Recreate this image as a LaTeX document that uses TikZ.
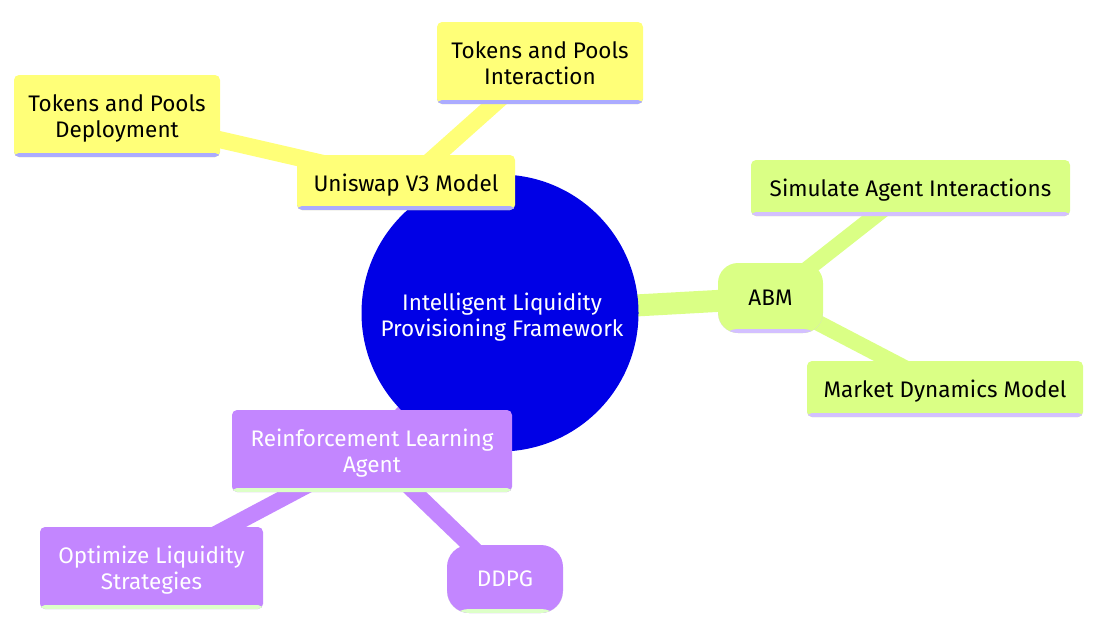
\documentclass[tikz,border=0pt]{standalone}
\usepackage{fontspec}
\setmainfont{Fira Sans}
\usetikzlibrary{backgrounds}
\definecolor{rootc}{HTML}{0000E6}
\definecolor{yel}{HTML}{FFFF78}
\definecolor{yelline}{HTML}{ABABFF}
\definecolor{grn}{HTML}{DAFF85}
\definecolor{grnline}{HTML}{D3C0FF}
\definecolor{pur}{HTML}{C386FF}
\definecolor{purline}{HTML}{DDFFC8}
\tikzset{
  x=1pt,y=-1pt,
  every node/.style={font=\fontsize{22.5}{26}\selectfont, align=center, inner sep=0pt, text depth=0pt},
  boxbase/.style={rectangle, rounded corners=5pt},
  ybox/.style={boxbase, fill=yel, text=black,
    path picture={\fill[yelline] ([yshift=4pt]path picture bounding box.south west) rectangle (path picture bounding box.south east);}},
  gbox/.style={boxbase, fill=grn, text=black,
    path picture={\fill[grnline] ([yshift=4pt]path picture bounding box.south west) rectangle (path picture bounding box.south east);}},
  pbox/.style={boxbase, fill=pur, text=white,
    path picture={\fill[purline] ([yshift=4pt]path picture bounding box.south west) rectangle (path picture bounding box.south east);}},
  yedge/.style={draw=yel, line width=#1},
  gedge/.style={draw=grn, line width=#1},
  pedge/.style={draw=pur, line width=#1},
}
\begin{document}
\begin{tikzpicture}
\useasboundingbox (0,0) rectangle (1102,625);
% root
\node[circle, fill=rootc, minimum size=277pt, text=white] (root) at (500,313) {};
\node[text=white] (roottxt) at (502,315) {Intelligent Liquidity\\Provisioning Framework};
% yellow branch
\node[ybox, minimum width=218pt, minimum height=55pt] (uni) at (406,182.5) {Uniswap V3 Model};
\node[ybox, minimum width=206pt, minimum height=82pt] (dep) at (117,116) {Tokens and Pools\\Deployment};
\node[ybox, minimum width=206pt, minimum height=82pt] (inter) at (540,63) {Tokens and Pools\\Interaction};
% green branch
\node[gbox, rounded corners=20pt, minimum width=105pt, minimum height=70pt] (abm) at (770.5,298) {ABM};
\node[gbox, minimum width=319pt, minimum height=56pt] (sim) at (910.5,188) {Simulate Agent Interactions};
\node[gbox, minimum width=276pt, minimum height=56pt] (mkt) at (945,389) {Market Dynamics Model};
% purple branch
\node[pbox, minimum width=280pt, minimum height=82pt] (rl) at (372,451) {Reinforcement Learning\\Agent};
\node[pbox, minimum width=223pt, minimum height=82pt] (opt) at (151.5,568) {Optimize Liquidity\\Strategies};
\node[pbox, rounded corners=22pt, minimum width=116pt, minimum height=68pt] (ddpg) at (505,579) {DDPG};
\begin{scope}[on background layer]
  \draw[yedge=22pt] (root.center) -- (uni.center);
  \draw[yedge=17pt] (uni.center) -- (dep.center);
  \draw[yedge=17pt] (uni.center) -- (inter.center);
  \draw[gedge=22pt] (root.center) -- (abm.center);
  \draw[gedge=16pt] (abm.center) -- (sim.center);
  \draw[gedge=16pt] (abm.center) -- (mkt.center);
  \draw[pedge=22pt] (root.center) -- (rl.center);
  \draw[pedge=16pt] (rl.center) -- (opt.center);
  \draw[pedge=16pt] (rl.center) -- (ddpg.center);
\end{scope}
\end{tikzpicture}
\end{document}
